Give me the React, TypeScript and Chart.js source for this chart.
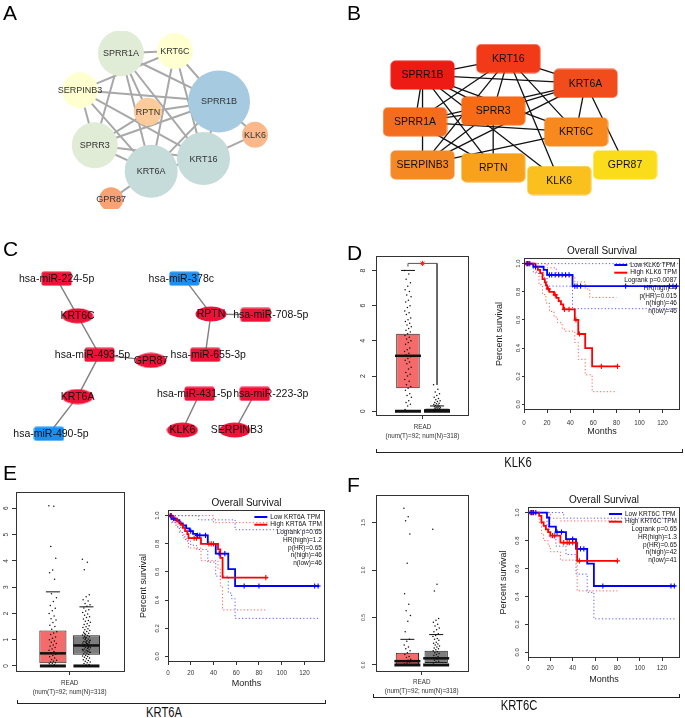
import React, { useEffect, useRef } from 'react';
import { Chart, registerables } from 'chart.js';

Chart.register(...registerables);

const FONT = '"Liberation Sans", Arial, Helvetica, sans-serif';

/* ================= A / B : PPI network ================= */
const genes = ['SPRR1A', 'KRT6C', 'SERPINB3', 'SPRR1B', 'RPTN', 'KLK6', 'SPRR3', 'KRT16', 'KRT6A', 'GPR87'];
const ppiEdges: [string, string][] = [
  ['SPRR1A', 'KRT6C'], ['SERPINB3', 'KRT6C'], ['SPRR1A', 'SPRR1B'], ['SPRR1A', 'SPRR3'], ['SPRR1A', 'RPTN'],
  ['SPRR1A', 'KRT6A'], ['SPRR1A', 'KRT16'], ['KRT6C', 'SPRR1B'], ['KRT6C', 'KRT6A'], ['KRT6C', 'KRT16'],
  ['SERPINB3', 'SPRR1B'], ['SERPINB3', 'SPRR3'], ['SERPINB3', 'KRT6A'], ['SERPINB3', 'KRT16'],
  ['RPTN', 'SPRR1B'], ['RPTN', 'SPRR3'], ['SPRR3', 'SPRR1B'], ['SPRR3', 'KRT6A'], ['SPRR3', 'KRT16'],
  ['SPRR1B', 'KRT6A'], ['SPRR1B', 'KRT16'], ['SPRR1B', 'KLK6'], ['KRT16', 'KLK6'], ['KRT6A', 'KRT16'],
  ['KRT6A', 'GPR87'],
];
const layoutAX = [110, 176, 60, 230, 143, 274, 78, 211, 147, 98];
const layoutAY = [30, 27, 80, 95, 109, 140, 154, 172, 189, 227];
const layoutBX = [69, 240, 77, 77, 152, 222, 152, 168, 250, 292];
const layoutBY = [122, 133, 169, 71, 172, 186, 110, 53, 80, 169];
const hubRankB = [5, 6, 7, 1, 8, 9, 4, 2, 3, 10];

/* ================= C : miRNA network ================= */
const mirNodes = ['hsa-miR-224-5p', 'hsa-miR-378c', 'KRT6C', 'RPTN', 'hsa-miR-708-5p', 'hsa-miR-493-5p', 'GPR87',
  'hsa-miR-655-3p', 'KRT6A', 'hsa-miR-431-5p', 'hsa-miR-223-3p', 'hsa-miR-490-5p', 'KLK6', 'SERPINB3'];
const mirKind = ['up', 'down', 'gene', 'gene', 'up', 'up', 'gene', 'up', 'gene', 'up', 'up', 'down', 'gene', 'gene'];
const layoutCX = [51, 185, 73, 213, 260, 96, 150, 207, 73, 201, 259, 43, 183, 238];
const layoutCY = [33, 33, 73, 71, 72, 115, 121, 115, 160, 157, 157, 200, 196, 196];
const mirEdges: [string, string][] = [
  ['hsa-miR-224-5p', 'KRT6C'], ['KRT6C', 'hsa-miR-493-5p'], ['hsa-miR-493-5p', 'GPR87'], ['hsa-miR-493-5p', 'KRT6A'],
  ['KRT6A', 'hsa-miR-490-5p'], ['hsa-miR-378c', 'RPTN'], ['RPTN', 'hsa-miR-708-5p'], ['RPTN', 'hsa-miR-655-3p'],
  ['hsa-miR-431-5p', 'KLK6'], ['hsa-miR-223-3p', 'SERPINB3'],
];

/* ================= D / E / F : expression boxes ================= */
const groupLabel = ['READ', '(num(T)=92; num(N)=318)'];
const boxD = { T: { lo: 0, q1: 1.3, med: 3.15, q3: 4.4, hi: 8.0 }, N: { lo: 0, q1: 0.0, med: 0.05, q3: 0.15, hi: 0.3 } };
const boxE = { T: { lo: 0, q1: 0.1, med: 0.48, q3: 1.35, hi: 2.82 }, N: { lo: 0, q1: 0.43, med: 0.78, q3: 1.17, hi: 2.25 } };
const boxF = { T: { lo: 0, q1: 0.0, med: 0.04, q3: 0.13, hi: 0.27 }, N: { lo: 0, q1: 0.02, med: 0.07, q3: 0.15, hi: 0.32 } };
const dotsDT = [8.0, 7.8, 7.5, 7.3, 7.1, 6.9, 6.8, 6.6, 6.5, 6.3, 6.2, 6.0, 5.9, 5.7, 5.6, 5.5, 5.3, 5.2, 5.1, 5.0, 4.9,
  4.8, 4.7, 4.6, 4.5, 4.4, 4.3, 4.2, 4.1, 4.0, 3.9, 3.8, 3.6, 3.5, 3.4, 3.3, 3.2, 3.1, 3.0, 2.9, 2.8, 2.7, 2.5, 2.4,
  2.2, 2.1, 2.0, 1.8, 1.7, 1.5, 1.4, 1.3, 1.2, 1.0, 0.9, 0.8, 0.6, 0.5, 0.4, 0.3, 0.1];
const dotsDN = [1.5, 1.25, 1.1, 1.0, 0.9, 0.8, 0.72, 0.65, 0.6, 0.55, 0.5, 0.45, 0.42, 0.38, 0.35, 0.32, 0.3, 0.28,
  0.26, 0.24, 0.22, 0.2, 0.18, 0.16, 0.14, 0.12, 0.1, 0.09, 0.08, 0.07, 0.06, 0.05, 0.04, 0.03, 0.02, 0.01];
const dotsET = [6.1, 6.08, 4.55, 4.1, 3.65, 3.55, 3.3, 2.75, 2.6, 2.45, 2.3, 2.2, 2.1, 2.0, 1.9, 1.8, 1.75, 1.65,
  1.55, 1.5, 1.4, 1.3, 1.25, 1.2, 1.1, 1.05, 1.0, 0.95, 0.9, 0.85, 0.8, 0.75, 0.7, 0.65, 0.6, 0.55, 0.5, 0.45, 0.4,
  0.35, 0.3, 0.25, 0.22, 0.18, 0.15, 0.12, 0.1, 0.08, 0.05, 0.03, 0.02, 0.01];
const dotsEN = [4.06, 3.95, 3.66, 2.71, 2.63, 2.52, 2.47, 2.38, 2.33, 2.27, 2.21, 2.14, 2.09, 2.03, 1.98, 1.93, 1.87,
  1.84, 1.79, 1.73, 1.7, 1.66, 1.61, 1.58, 1.53, 1.49, 1.46, 1.42, 1.38, 1.35, 1.31, 1.28, 1.24, 1.21, 1.18, 1.16,
  1.13, 1.11, 1.08, 1.06, 1.03, 1.01, 0.98, 0.96, 0.93, 0.91, 0.89, 0.87, 0.84, 0.82, 0.8, 0.78, 0.76, 0.74, 0.71,
  0.69, 0.67, 0.65, 0.62, 0.6, 0.58, 0.55, 0.53, 0.51, 0.48, 0.46, 0.44, 0.41, 0.38, 0.36, 0.33, 0.3, 0.27, 0.24,
  0.21, 0.18, 0.15, 0.12, 0.09, 0.06, 0.04, 0.02, 0.01, 0.0, 0.97, 0.86, 0.79, 0.72, 1.04, 0.63, 0.57, 1.23, 0.88,
  0.94, 0.75, 0.68, 1.09, 0.52, 0.83, 0.77];
const dotsFT = [1.65, 1.56, 1.52, 1.38, 1.07, 0.75, 0.64, 0.57, 0.52, 0.46, 0.35, 0.27, 0.25, 0.21, 0.19, 0.17, 0.15,
  0.13, 0.11, 0.09, 0.08, 0.06, 0.05, 0.04, 0.03, 0.02, 0.01, 0.0];
const dotsFN = [1.43, 0.85, 0.78, 0.49, 0.47, 0.45, 0.43, 0.41, 0.39, 0.37, 0.35, 0.33, 0.31, 0.3, 0.28, 0.27, 0.26,
  0.24, 0.23, 0.22, 0.21, 0.2, 0.19, 0.18, 0.17, 0.16, 0.15, 0.14, 0.13, 0.12, 0.11, 0.1, 0.09, 0.08, 0.07, 0.06,
  0.05, 0.04, 0.03, 0.02];

/* ================= D / E / F : survival ================= */
const kmDLow = [[0, 1], [8, 0.978], [17, 0.956], [20, 0.92], [42, 0.84], [133, 0.84]];
const kmDHigh = [[0, 1], [10, 0.978], [12, 0.956], [14, 0.933], [16, 0.89], [18, 0.867], [19, 0.845], [20, 0.82],
  [22, 0.8], [26, 0.778], [28, 0.756], [30, 0.733], [32, 0.71], [34, 0.675], [44, 0.6], [47, 0.5], [53, 0.4],
  [59, 0.27], [81, 0.27]];
const ciDLowUp = [[0, 1], [135, 1]];
const ciDLowLo = [[0, 1], [8, 0.94], [17, 0.9], [20, 0.84], [42, 0.68], [135, 0.68]];
const ciDHighUp = [[0, 1], [20, 0.97], [28, 0.91], [44, 0.87], [53, 0.82], [57, 0.76], [80, 0.76]];
const ciDHighLo = [[0, 1], [10, 0.93], [13, 0.85], [16, 0.78], [19, 0.72], [22, 0.66], [26, 0.62], [29, 0.58],
  [33, 0.54], [35, 0.52], [44, 0.44], [47, 0.32], [53, 0.21], [59, 0.09], [80, 0.09]];
const censDLow = [3, 5, 10, 22, 24, 27, 30, 33, 36, 39, 44, 46, 49, 88, 126, 129, 132];
const censDHigh = [2, 4, 21, 27, 35, 39, 45, 48, 67, 81];
const legendD = ['Low KLK6 TPM', 'High KLK6 TPM'];
const statsD = ['Logrank p=0.0087', 'HR(high)=4', 'p(HR)=0.015', 'n(high)=46', 'n(low)=46'];

const kmELow = [[0, 1], [3, 0.978], [7, 0.967], [10, 0.945], [13, 0.93], [16, 0.91], [19, 0.89], [22, 0.87],
  [25, 0.86], [35, 0.8], [42, 0.73], [53, 0.62], [59, 0.5], [133, 0.5]];
const kmEHigh = [[0, 1], [4, 0.978], [8, 0.957], [11, 0.935], [13, 0.913], [15, 0.89], [17, 0.868], [18, 0.84],
  [29, 0.8], [44, 0.76], [46, 0.7], [48, 0.56], [88, 0.56]];
const ciELowUp = [[0, 1], [27, 0.97], [59, 0.9], [133, 0.9]];
const ciELowLo = [[0, 1], [3, 0.95], [7, 0.92], [10, 0.88], [13, 0.85], [16, 0.82], [20, 0.79], [25, 0.76],
  [35, 0.67], [42, 0.57], [53, 0.45], [56, 0.41], [59, 0.27], [133, 0.27]];
const ciEHighUp = [[0, 1], [40, 0.95], [88, 0.95]];
const ciEHighLo = [[0, 1], [4, 0.95], [8, 0.92], [11, 0.88], [14, 0.83], [18, 0.77], [29, 0.68], [44, 0.62],
  [46, 0.5], [48, 0.33], [86, 0.33]];
const censELow = [2, 5, 20, 26, 28, 33, 45, 50, 67, 80, 129, 132];
const censEHigh = [3, 6, 23, 25, 36, 38, 40, 86];
const legendE = ['Low KRT6A TPM', 'High KRT6A TPM'];
const statsE = ['Logrank p=0.65', 'HR(high)=1.2', 'p(HR)=0.65', 'n(high)=46', 'n(low)=46'];

const kmFLow = [[0, 1], [17, 0.965], [19, 0.9], [25, 0.86], [34, 0.81], [43, 0.74], [53, 0.635], [59, 0.475],
  [132, 0.475]];
const kmFHigh = [[0, 1], [10, 0.976], [12, 0.93], [14, 0.905], [16, 0.88], [18, 0.86], [20, 0.835], [29, 0.785],
  [44, 0.655], [80, 0.655]];
const ciFLowUp = [[0, 1], [32, 0.96], [132, 0.96]];
const ciFLowLo = [[0, 1], [17, 0.9], [19, 0.82], [25, 0.76], [34, 0.7], [43, 0.56], [53, 0.43], [59, 0.24], [132, 0.24]];
const ciFHighUp = [[0, 1], [20, 0.96], [29, 0.94], [80, 0.94]];
const ciFHighLo = [[0, 1], [10, 0.93], [12, 0.85], [14, 0.8], [18, 0.76], [20, 0.72], [29, 0.66], [44, 0.44], [80, 0.44]];
const censFLow = [3, 5, 7, 26, 30, 40, 47, 50, 67, 128, 131];
const censFHigh = [2, 4, 22, 24, 32, 35, 37, 40, 46, 80];
const legendF = ['Low KRT6C TPM', 'High KRT6C TPM'];
const statsF = ['Logrank p=0.65', 'HR(high)=1.3', 'p(HR)=0.65', 'n(high)=42', 'n(low)=41'];

/* ================= styles ================= */
const degreeRadius: Record<number, number> = { 1: 12, 2: 13, 3: 14, 4: 16, 5: 18, 6: 23, 7: 26.5, 8: 31 };
const degreeColor: Record<number, string> = {
  1: '#f9a274', 2: '#fbb98b', 3: '#fdca9b', 4: '#fde0b0', 5: '#ffffcf', 6: '#e1ecd6', 7: '#c6dcda', 8: '#a6cbe1',
};
const rankColor = ['#ee1a14', '#f23a18', '#f04c1c', '#f76a16', '#f46d1e', '#f7891f', '#f58a25', '#f8a21c', '#f9c01e', '#fbdc1a'];
const BLUE = '#0000ff';
const RED = '#ff0000';

const jitter = (i: number) => ((i * 0.618034) % 1) - 0.5;
const survAt = (curve: number[][], t: number) => {
  let s = 1;
  curve.forEach(([ti, si]) => { if (ti <= t) s = si; });
  return s;
};
const degreeOf = (name: string) => ppiEdges.filter((e) => e[0] === name || e[1] === name).length;

/* ================= plugins ================= */
function labelPlugin(dsIndex: number, labels: string[], size: number, color: string, dx?: number[]) {
  return {
    id: 'nodeLabels',
    afterDatasetsDraw(chart: any) {
      const meta = chart.getDatasetMeta(dsIndex);
      const ctx = chart.ctx;
      ctx.save();
      ctx.font = `${size}px ${FONT}`;
      ctx.fillStyle = color;
      ctx.textAlign = 'center';
      ctx.textBaseline = 'middle';
      meta.data.forEach((el: any, i: number) => ctx.fillText(labels[i], el.x + (dx ? dx[i] : 0), el.y + 0.5));
      ctx.restore();
    },
  };
}

const framePlugin = {
  id: 'frame',
  afterDraw(chart: any) {
    const { ctx, chartArea: a } = chart;
    ctx.save();
    ctx.strokeStyle = '#333';
    ctx.lineWidth = 1;
    const l = Math.round(a.left) + 0.5, t = Math.round(a.top) + 0.5;
    const r = Math.round(a.right) - 0.5, b = Math.round(a.bottom) - 0.5;
    ctx.strokeRect(l, t, r - l, b - t);
    ctx.restore();
  },
};

function survTextPlugin(names: string[], stats: string[]) {
  return {
    id: 'survText',
    afterDraw(chart: any) {
      const { ctx, chartArea: a } = chart;
      ctx.save();
      ctx.fillStyle = '#111';
      ctx.textBaseline = 'middle';
      ctx.textAlign = 'center';
      ctx.font = `10px ${FONT}`;
      ctx.fillText('Overall Survival', (a.left + a.right) / 2, a.top - 7);
      ctx.font = `6.5px ${FONT}`;
      const lh = 7.7;
      const right = a.right - 3;
      const maxW = Math.max(...names.map((n) => ctx.measureText(n).width));
      const tx = right - maxW;
      const cols = [BLUE, RED];
      names.forEach((n, i) => {
        const y = a.top + 7 + i * lh;
        ctx.strokeStyle = cols[i];
        ctx.lineWidth = 2;
        ctx.beginPath();
        ctx.moveTo(tx - 16, y);
        ctx.lineTo(tx - 3, y);
        ctx.stroke();
        ctx.textAlign = 'left';
        ctx.fillText(n, tx, y);
      });
      ctx.textAlign = 'right';
      stats.forEach((s, i) => ctx.fillText(s, right, a.top + 7 + (i + 2) * lh));
      ctx.restore();
    },
  };
}

/* ================= config builders ================= */
function netOptions(w: number, h: number) {
  return {
    responsive: false,
    animation: false,
    events: [],
    layout: { padding: 0 },
    scales: {
      x: { type: 'linear', display: false, min: 0, max: w },
      y: { type: 'linear', display: false, min: 0, max: h, reverse: true },
    },
    plugins: { legend: { display: false }, tooltip: { enabled: false } },
  };
}

function edgeDatasets(edges: [string, string][], names: string[], xs: number[], ys: number[], color: string, width: number) {
  return edges.map(([a, b]) => {
    const i = names.indexOf(a);
    const j = names.indexOf(b);
    return {
      type: 'scatter',
      data: [{ x: xs[i], y: ys[i] }, { x: xs[j], y: ys[j] }],
      showLine: true,
      borderColor: color,
      borderWidth: width,
      pointRadius: 0,
      order: 1,
    };
  });
}

function shapeImage(kind: 'rect' | 'ellipse', w: number, h: number, color: string, r = 2) {
  const c = document.createElement('canvas');
  c.width = w;
  c.height = h;
  const g = c.getContext('2d')!;
  g.fillStyle = color;
  g.beginPath();
  if (kind === 'ellipse') g.ellipse(w / 2, h / 2, w / 2 - 0.5, h / 2 - 0.5, 0, 0, Math.PI * 2);
  else (g as any).roundRect(0.5, 0.5, w - 1, h - 1, r);
  g.fill();
  return c;
}

const makeNetA = () => ({
  type: 'scatter',
  data: {
    datasets: [
      {
        data: genes.map((g, i) => ({ x: layoutAX[i], y: layoutAY[i] })),
        pointRadius: genes.map((g) => degreeRadius[degreeOf(g)]),
        pointBackgroundColor: genes.map((g) => degreeColor[degreeOf(g)]),
        pointBorderWidth: 0,
        order: 0,
      },
      ...edgeDatasets(ppiEdges, genes, layoutAX, layoutAY, '#a8a8a8', 2),
    ],
  },
  options: netOptions(340, 240),
  plugins: [labelPlugin(0, genes, 9, '#333')],
});

const makeNetB = () => ({
  type: 'scatter',
  data: {
    datasets: [
      {
        data: genes.map((g, i) => ({ x: layoutBX[i], y: layoutBY[i] })),
        pointStyle: genes.map((g, i) => shapeImage('rect', 65, 30, rankColor[hubRankB[i] - 1], 5)),
        pointRadius: 10,
        pointBorderWidth: 0,
        order: 0,
      },
      ...edgeDatasets(ppiEdges, genes, layoutBX, layoutBY, '#111', 1.3),
    ],
  },
  options: netOptions(345, 240),
  plugins: [labelPlugin(0, genes, 10.5, '#111')],
});

const makeNetC = () => {
  const up = shapeImage('rect', 31, 15, '#ef1238', 2);
  const down = shapeImage('rect', 31, 15, '#1b8ff2', 2);
  const gene = shapeImage('ellipse', 32, 16, '#ef1238');
  const dx = [0, -3, 0, 0, 15, -7, 0, 3, 0, -5, 16, 2, 0, 2];
  return {
    type: 'scatter',
    data: {
      datasets: [
        {
          data: mirNodes.map((n, i) => ({ x: layoutCX[i], y: layoutCY[i] })),
          pointStyle: mirKind.map((k) => (k === 'up' ? up : k === 'down' ? down : gene)),
          pointRadius: 8,
          pointBorderWidth: 0,
          order: 0,
        },
        ...edgeDatasets(mirEdges, mirNodes, layoutCX, layoutCY, '#808080', 1.4),
      ],
    },
    options: netOptions(340, 225),
    plugins: [labelPlugin(0, mirNodes, 10.5, '#111', dx)],
  };
};

type BoxStats = { lo: number; q1: number; med: number; q3: number; hi: number };
function boxConfig(s: {
  w: number; h: number; frame: number[]; xMin: number; xMax: number; yMin: number; yMax: number; yStep: number;
  T: BoxStats; N: BoxStats; dotsT: number[]; dotsN: number[]; yFont: number; yPad: number; yW: number;
  xPad: number; fmt: (v: number) => string; bracket?: number[][];
}) {
  const [fl, ft, fr, fb] = s.frame;
  const xH = 25;
  const pts = (vals: number[], c: number) => vals.map((v, i) => ({ x: c + jitter(i) * 0.24, y: v }));
  const mark = (data: any[], radius: number, width: number) => ({
    type: 'scatter', data, pointStyle: 'line', pointRadius: radius, pointBorderWidth: width,
    pointBorderColor: '#111', order: 1,
  });
  const datasets: any[] = [
    { type: 'scatter', data: pts(s.dotsT, 1), pointRadius: 0.75, pointBackgroundColor: '#111', pointBorderWidth: 0, order: 0 },
    { type: 'scatter', data: pts(s.dotsN, 2), pointRadius: 0.75, pointBackgroundColor: '#111', pointBorderWidth: 0, order: 0 },
    mark([{ x: 1, y: s.T.med }, { x: 2, y: s.N.med }], 13, 2.5),
    mark([{ x: 1, y: s.T.lo }, { x: 2, y: s.N.lo }], 13, 3),
    mark([{ x: 1, y: s.T.hi }, { x: 2, y: s.N.hi }], 7, 1),
    {
      type: 'bar',
      data: [{ x: 1, y: [s.T.q1, s.T.q3] }, { x: 2, y: [s.N.q1, s.N.q3] }],
      backgroundColor: ['#f56b6b', '#7d7d7d'],
      borderColor: '#222',
      borderWidth: 1,
      borderSkipped: false,
      barPercentage: 0.81,
      categoryPercentage: 1,
      order: 3,
    },
  ];
  if (s.bracket) {
    datasets.push({
      type: 'line', data: s.bracket.map(([x, y]) => ({ x, y })), borderColor: '#555', borderWidth: 1,
      pointRadius: 0, fill: false, order: 2,
    });
    const top = s.bracket[1];
    datasets.push({
      type: 'scatter', data: [{ x: 1.5, y: top[1] }], pointStyle: 'star', pointRadius: 2.6,
      pointBorderColor: '#ff2020', pointBorderWidth: 1, order: 0,
    });
  }
  return {
    type: 'bar',
    data: { datasets },
    options: {
      responsive: false,
      animation: false,
      events: [],
      layout: { padding: { left: fl - s.yW, right: s.w - fr, top: ft, bottom: s.h - fb - xH } },
      scales: {
        x: {
          type: 'linear', min: s.xMin, max: s.xMax, offset: false,
          afterBuildTicks: (sc: any) => { sc.ticks = [{ value: 1.5 }]; },
          afterFit: (sc: any) => { sc.height = xH; },
          grid: { offset: false, drawOnChartArea: false, drawTicks: true, tickLength: 3, tickColor: '#333' },
          border: { display: false },
          ticks: {
            callback: () => groupLabel, autoSkip: false, maxRotation: 0, padding: s.xPad, color: '#333',
            font: { family: FONT, size: 6.3, lineHeight: 1.45 },
          },
        },
        y: {
          type: 'linear', min: s.yMin, max: s.yMax,
          afterFit: (sc: any) => { sc.width = s.yW; },
          grid: { drawOnChartArea: false, drawTicks: true, tickLength: 4, tickColor: '#333' },
          border: { display: false },
          ticks: {
            stepSize: s.yStep, includeBounds: false, autoSkip: false, minRotation: 90, maxRotation: 90,
            crossAlign: 'center', padding: s.yPad, color: '#333', font: { family: FONT, size: s.yFont },
            callback: (v: any) => s.fmt(Number(v)),
          },
        },
      },
      plugins: { legend: { display: false }, tooltip: { enabled: false } },
    },
    plugins: [framePlugin],
  };
}

function survConfig(s: {
  w: number; h: number; frame: number[]; xMax: number; yPad: number; yTL: number; xPad: number;
  low: number[][]; high: number[][]; ciLowUp: number[][]; ciLowLo: number[][]; ciHighUp: number[][]; ciHighLo: number[][];
  censLow: number[]; censHigh: number[]; legend: string[]; stats: string[];
}) {
  const [fl, ft, fr, fb] = s.frame;
  const yW = 29.4;
  const xH = 27.4;
  const xy = (c: number[][]) => c.map(([x, y]) => ({ x, y }));
  const km = (c: number[][], color: string, order: number) => ({
    type: 'line', data: xy(c), borderColor: color, borderWidth: 1.8, stepped: true, pointRadius: 0, fill: false, order,
  });
  const ci = (c: number[][], color: string) => ({
    type: 'line', data: xy(c), borderColor: color, borderWidth: 1, borderDash: [1.2, 2.2], stepped: true,
    pointRadius: 0, fill: false, order: 3,
  });
  const cens = (times: number[], c: number[][], color: string) => ({
    type: 'scatter', data: times.map((t) => ({ x: t, y: survAt(c, t) })), pointStyle: 'cross', pointRadius: 2.6,
    pointBorderColor: color, pointBorderWidth: 1.1, order: 0,
  });
  return {
    type: 'line',
    data: {
      datasets: [
        ci(s.ciLowUp, '#5a5aff'), ci(s.ciLowLo, '#5a5aff'), ci(s.ciHighUp, '#ff5a5a'), ci(s.ciHighLo, '#ff5a5a'),
        km(s.low, BLUE, 2), km(s.high, RED, 1),
        cens(s.censLow, s.low, BLUE), cens(s.censHigh, s.high, RED),
      ],
    },
    options: {
      responsive: false,
      animation: false,
      events: [],
      layout: { padding: { left: fl - yW, right: s.w - fr, top: ft, bottom: s.h - fb - xH } },
      scales: {
        x: {
          type: 'linear', min: 0, max: s.xMax,
          afterFit: (sc: any) => { sc.height = xH; },
          grid: { drawOnChartArea: false, drawTicks: true, tickLength: 3, tickColor: '#333' },
          border: { display: false },
          ticks: {
            stepSize: 20, includeBounds: false, autoSkip: false, maxRotation: 0, padding: s.xPad, color: '#333',
            font: { family: FONT, size: 6.3 },
          },
          title: { display: true, text: 'Months', color: '#222', padding: 0, font: { family: FONT, size: 9 } },
        },
        y: {
          type: 'linear', min: -0.04, max: 1.04,
          afterFit: (sc: any) => { sc.width = yW; },
          grid: { drawOnChartArea: false, drawTicks: true, tickLength: s.yTL, tickColor: '#333' },
          border: { display: false },
          ticks: {
            stepSize: 0.2, includeBounds: false, autoSkip: false, minRotation: 90, maxRotation: 90,
            crossAlign: 'center', padding: s.yPad, color: '#333', font: { family: FONT, size: 6 },
            callback: (v: any) => Number(v).toFixed(1),
          },
          title: { display: true, text: 'Percent survival', color: '#222', padding: 0, font: { family: FONT, size: 9 } },
        },
      },
      plugins: { legend: { display: false }, tooltip: { enabled: false } },
    },
    plugins: [framePlugin, survTextPlugin(s.legend, s.stats)],
  };
}

const intFmt = (v: number) => String(Math.round(v));
const oneFmt = (v: number) => v.toFixed(1);

const makeBoxD = () => boxConfig({
  w: 145, h: 205, frame: [36, 6, 137, 176], xMin: -0.1, xMax: 3.1, yMin: -0.27, yMax: 8.82, yStep: 2,
  T: boxD.T, N: boxD.N, dotsT: dotsDT, dotsN: dotsDN, yFont: 7, yPad: 7, yW: 20, xPad: 3.4, fmt: intFmt,
  bracket: [[1, 8.22], [1, 8.4], [2, 8.4], [2, 1.5]],
});
const makeBoxE = () => boxConfig({
  w: 145, h: 228, frame: [16, 22, 125, 202], xMin: -0.1, xMax: 3.15, yMin: -0.23, yMax: 6.62, yStep: 1,
  T: boxE.T, N: boxE.N, dotsT: dotsET, dotsN: dotsEN, yFont: 6.5, yPad: 3.7, yW: 16, xPad: 3.4, fmt: intFmt,
});
const makeBoxF = () => boxConfig({
  w: 145, h: 228, frame: [36, 25, 141, 202], xMin: -0.09, xMax: 3.14, yMin: -0.074, yMax: 1.79, yStep: 0.5,
  T: boxF.T, N: boxF.N, dotsT: dotsFT, dotsN: dotsFN, yFont: 5, yPad: 5.2, yW: 20, xPad: 2.4, fmt: oneFmt,
});
const makeSurvD = () => survConfig({
  w: 200, h: 205, frame: [39, 18, 198, 170], xMax: 135, yPad: -1, yTL: 2, xPad: 6.2,
  low: kmDLow, high: kmDHigh, ciLowUp: ciDLowUp, ciLowLo: ciDLowLo, ciHighUp: ciDHighUp, ciHighLo: ciDHighLo,
  censLow: censDLow, censHigh: censDHigh, legend: legendD, stats: statsD,
});
const makeSurvE = () => survConfig({
  w: 200, h: 205, frame: [38, 20, 197, 172], xMax: 138, yPad: 3.1, yTL: 3, xPad: 4.2,
  low: kmELow, high: kmEHigh, ciLowUp: ciELowUp, ciLowLo: ciELowLo, ciHighUp: ciEHighUp, ciHighLo: ciEHighLo,
  censLow: censELow, censHigh: censEHigh, legend: legendE, stats: statsE,
});
const makeSurvF = () => survConfig({
  w: 200, h: 200, frame: [43, 17, 198, 168], xMax: 136, yPad: 3.1, yTL: 3, xPad: 3.2,
  low: kmFLow, high: kmFHigh, ciLowUp: ciFLowUp, ciLowLo: ciFLowLo, ciHighUp: ciFHighUp, ciHighLo: ciFHighLo,
  censLow: censFLow, censHigh: censFHigh, legend: legendF, stats: statsF,
});

/* ================= components ================= */
function ChartBox({ left, top, width, height, make }: { left: number; top: number; width: number; height: number; make: () => any }) {
  const ref = useRef<HTMLCanvasElement | null>(null);
  useEffect(() => {
    if (!ref.current) return;
    const chart = new Chart(ref.current, make());
    return () => chart.destroy();
  }, []);
  return (
    <canvas ref={ref} width={width} height={height}
      style={{ position: 'absolute', left, top, width, height, display: 'block' }} />
  );
}

function Letter({ t, x, y }: { t: string; x: number; y: number }) {
  return (
    <div style={{ position: 'absolute', left: x, top: y - 2.8, fontSize: 21, lineHeight: '21px', color: '#000' }}>{t}</div>
  );
}

function Bracket({ x1, x2, y, label, cx, cy }: { x1: number; x2: number; y: number; label: string; cx: number; cy: number }) {
  return (
    <>
      <div style={{
        position: 'absolute', left: x1, top: y - 3, width: x2 - x1, height: 4, boxSizing: 'border-box',
        borderLeft: '1px solid #222', borderRight: '1px solid #222', borderBottom: '1px solid #222',
      }} />
      <div style={{
        position: 'absolute', left: cx - 50, top: cy - 6.85, width: 100, textAlign: 'center', fontSize: 14,
        lineHeight: '14px', color: '#111', transform: 'scaleX(0.8)',
      }}>{label}</div>
    </>
  );
}

export default function App() {
  return (
    <div style={{
      position: 'absolute', left: 0, top: 0, width: 685, height: 718, background: '#fff', overflow: 'hidden',
      fontFamily: FONT,
    }}>
      <ChartBox left={0} top={0} width={340} height={240} make={makeNetA} />
      <ChartBox left={340} top={0} width={345} height={240} make={makeNetB} />
      <ChartBox left={0} top={240} width={340} height={225} make={makeNetC} />
      <ChartBox left={340} top={240} width={145} height={205} make={makeBoxD} />
      <ChartBox left={485} top={240} width={200} height={205} make={makeSurvD} />
      <ChartBox left={0} top={470} width={145} height={228} make={makeBoxE} />
      <ChartBox left={130} top={490} width={200} height={205} make={makeSurvE} />
      <ChartBox left={340} top={470} width={145} height={228} make={makeBoxF} />
      <ChartBox left={485} top={490} width={200} height={200} make={makeSurvF} />
      <Letter t="A" x={3} y={5} />
      <Letter t="B" x={347} y={5} />
      <Letter t="C" x={3} y={241} />
      <Letter t="D" x={347} y={245} />
      <Letter t="E" x={3} y={465} />
      <Letter t="F" x={347} y={477} />
      <Bracket x1={376} x2={683} y={452} label="KLK6" cx={518} cy={462} />
      <Bracket x1={17} x2={326} y={703} label="KRT6A" cx={164} cy={712} />
      <Bracket x1={373} x2={680} y={697} label="KRT6C" cx={519} cy={705} />
    </div>
  );
}
